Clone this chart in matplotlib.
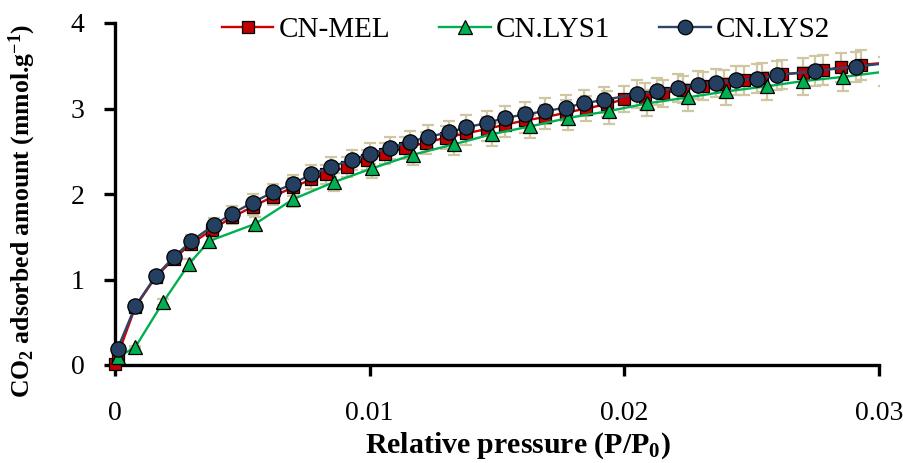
import numpy as np
import matplotlib
matplotlib.use("Agg")
import matplotlib.pyplot as plt
from matplotlib.lines import Line2D

plt.rcParams['font.family'] = ['Liberation Serif', 'DejaVu Serif']
plt.rcParams['mathtext.default'] = 'regular'

# ---- data -------------------------------------------------------------
series_names = ["CN-MEL", "CN.LYS1", "CN.LYS2"]

mel_p = [0.0, 0.0001, 0.0008, 0.0016, 0.0023, 0.0030, 0.0038, 0.0046, 0.0054,
         0.0062, 0.0070, 0.0077, 0.0083, 0.0091, 0.0099, 0.0106, 0.0114, 0.0122,
         0.0130, 0.0138, 0.0146, 0.0153, 0.0161, 0.0169, 0.0177, 0.0185, 0.0193,
         0.0200, 0.0208, 0.0215, 0.0223, 0.0231, 0.0239, 0.0247, 0.0254, 0.0262,
         0.0270, 0.0278, 0.0285, 0.0293, 0.0308]
mel_q = [0.01, 0.11, 0.68, 1.03, 1.24, 1.42, 1.58, 1.73, 1.85,
         1.97, 2.08, 2.17, 2.23, 2.32, 2.40, 2.47, 2.54, 2.60,
         2.66, 2.71, 2.76, 2.81, 2.86, 2.90, 2.95, 3.00, 3.05,
         3.11, 3.14, 3.18, 3.22, 3.26, 3.29, 3.33, 3.36, 3.40,
         3.42, 3.45, 3.48, 3.51, 3.55]

lys1_p = [0.0001, 0.0008, 0.0019, 0.0029, 0.0037, 0.0055, 0.0070, 0.0086,
          0.0101, 0.0117, 0.0133, 0.0148, 0.0163, 0.0178, 0.0194, 0.0209,
          0.0225, 0.0240, 0.0256, 0.0270, 0.0286, 0.0302]
lys1_q = [0.09, 0.21, 0.74, 1.18, 1.45, 1.65, 1.94, 2.14,
          2.30, 2.46, 2.58, 2.70, 2.79, 2.89, 2.97, 3.06,
          3.13, 3.20, 3.26, 3.32, 3.37, 3.43]

lys2_p = [0.0001, 0.0008, 0.0016, 0.0023, 0.0030, 0.0039, 0.0046, 0.0054,
          0.0062, 0.0070, 0.0077, 0.0085, 0.0093, 0.0100, 0.0108, 0.0116,
          0.0123, 0.0131, 0.0138, 0.0146, 0.0153, 0.0161, 0.0169, 0.0177,
          0.0184, 0.0192, 0.0205, 0.0213, 0.0221, 0.0229, 0.0236, 0.0244,
          0.0252, 0.0260, 0.0275, 0.0291, 0.0306]
lys2_q = [0.19, 0.69, 1.04, 1.26, 1.45, 1.64, 1.77, 1.90,
          2.02, 2.12, 2.23, 2.32, 2.40, 2.47, 2.54, 2.61,
          2.67, 2.72, 2.78, 2.83, 2.89, 2.93, 2.97, 3.01,
          3.06, 3.10, 3.17, 3.20, 3.24, 3.27, 3.30, 3.33,
          3.35, 3.39, 3.44, 3.49, 3.54]

error_percent = 5.0   # percentage error bars

x_ticks = [0, 0.01, 0.02, 0.03]
x_tick_labels = ["0", "0.01", "0.02", "0.03"]
y_ticks = [0, 1, 2, 3, 4]
y_tick_labels = ["0", "1", "2", "3", "4"]

# ---- styling ----------------------------------------------------------
styles = [
    dict(color="#D10000", marker="s", mfc="#C00000", ms=8.5),
    dict(color="#00B050", marker="^", mfc="#00B050", ms=10.5),
    dict(color="#2E4468", marker="o", mfc="#243F60", ms=11),
]
err_color = "#CFC6A2"

fig = plt.figure(figsize=(9.04, 4.63), dpi=100)
ax = fig.add_axes([115 / 904, 1 - 365 / 463, 764 / 904, 342 / 463])

xmax = 0.03
datasets = [(mel_p, mel_q), (lys1_p, lys1_q), (lys2_p, lys2_q)]

# error bars underneath everything
for p, q in datasets:
    p = np.asarray(p); q = np.asarray(q)
    ax.errorbar(p, q, yerr=q * error_percent / 100.0, fmt="none",
                ecolor=err_color, elinewidth=1.6, capsize=4.3,
                capthick=1.6, zorder=1)

handles = []
for i, ((p, q), st) in enumerate(zip(datasets, styles)):
    p = np.asarray(p); q = np.asarray(q)
    ax.plot(p, q, color=st["color"], lw=1.7, zorder=2 + i * 2)
    inside = p <= xmax
    ax.plot(p[inside], q[inside], ls="none", marker=st["marker"],
            ms=st["ms"], mfc=st["mfc"], mec="black", mew=0.9,
            zorder=3 + i * 2, clip_on=False)
    handles.append(Line2D([0], [0], color=st["color"], lw=1.7,
                          marker=st["marker"], ms=st["ms"] * 0.95,
                          mfc=st["mfc"], mec="black", mew=0.9))

ax.set_xlim(0, xmax)
ax.set_ylim(0, 4)
ax.set_xticks(x_ticks)
ax.set_xticklabels(x_tick_labels)
ax.set_yticks(y_ticks)
ax.set_yticklabels(y_tick_labels)

for side in ("top", "right"):
    ax.spines[side].set_visible(False)
for side in ("left", "bottom"):
    ax.spines[side].set_linewidth(2.4)
    ax.spines[side].set_capstyle("projecting")

ax.tick_params(axis="both", direction="out", length=8, width=2.4,
               labelsize=20, color="black")
ax.tick_params(axis="x", pad=18)
ax.tick_params(axis="y", pad=14)

fig.text(0.5 * (347 + 688) / 904, 1 - 453 / 463,
         "Relative pressure (P/P$_0$)", fontsize=21.5, fontweight="bold",
         ha="center", va="baseline")
fig.text(22 / 904, 1 - 211 / 463,
         "CO$_2$ adsorbed amount (mmol.g$^{-1}$)", fontsize=18.5,
         fontweight="bold", rotation=90, ha="center", va="center")

fig.legend(handles, series_names, loc="center",
           bbox_to_anchor=(526 / 904, 1 - 30 / 463), ncol=3, frameon=False,
           fontsize=21, handlelength=1.78, handletextpad=0.17,
           columnspacing=1.68, borderaxespad=0)

fig.savefig("out.png", dpi=100)
